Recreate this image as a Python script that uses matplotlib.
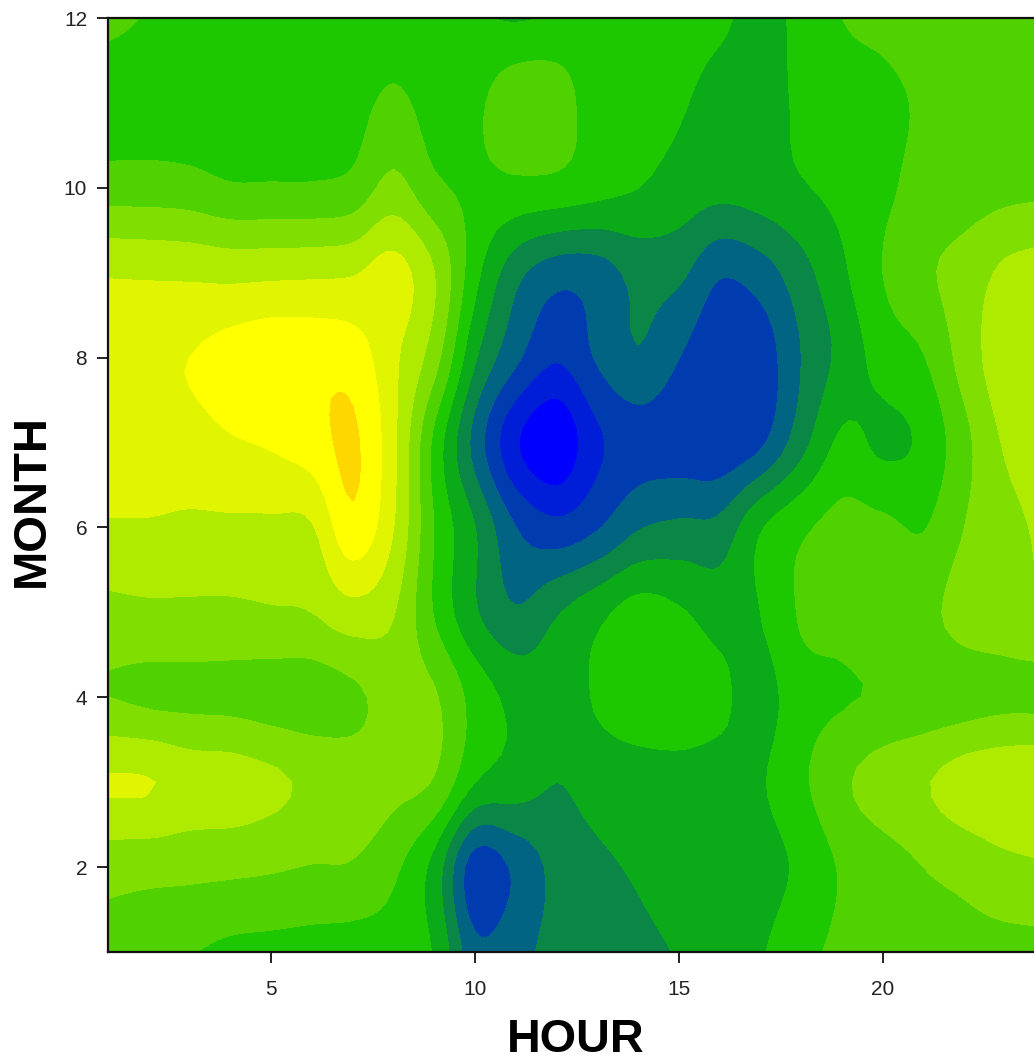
import numpy as np
import matplotlib
matplotlib.use("Agg")
import matplotlib.pyplot as plt

plt.rcParams['font.family'] = ['Liberation Sans', 'DejaVu Sans']

hours = list(range(1, 25))
months = list(range(1, 13))

m01 = [7.6,7.3,7.05,6.7,6.6,6.5,6.4,6.4,5.9,3.3,3.7,4.3,4.5,4.8,5.05,5.4,5.9,6.7,7.2,7.4,7.5,7.6,7.6,7.6]
m02 = [8.35,8.3,8.25,8.2,8.1,7.95,7.9,7.2,5.6,2.4,3.2,4.3,4.8,5.1,5.3,5.4,5.6,6.2,7.1,7.5,8.0,8.3,8.7,8.9]
m03 = [10.1,10.05,9.6,9.5,9.2,8.8,8.5,8.3,7.9,6.0,5.5,5.0,5.4,5.5,5.6,5.6,5.9,6.8,7.8,8.5,8.9,9.5,9.8,9.9]
m04 = [8.0,7.8,7.75,7.7,7.55,7.45,7.75,8.4,8.1,6.6,5.7,5.5,6.1,6.6,6.6,6.2,5.6,6.6,6.9,7.1,7.3,7.5,7.7,7.7]
m05 = [8.7,8.8,8.8,8.8,8.9,9.0,9.6,9.05,6.9,5.1,4.1,4.9,5.7,6.4,6.1,5.6,6.0,7.1,7.3,7.6,7.7,8.4,8.6,8.9]
m06 = [9.9,9.9,9.8,9.8,9.8,9.9,11.7,10.0,6.95,5.0,3.0,2.3,2.9,3.9,4.2,4.3,5.9,6.8,7.3,7.2,6.95,8.0,8.7,9.2]
m07 = [10.5,10.5,10.6,10.9,11.1,11.5,12.15,10.2,6.7,3.6,1.1,0.2,1.8,2.5,2.4,2.2,2.8,4.6,6.2,5.8,6.2,7.7,9.1,9.4]
m08 = [10.6,10.8,11.0,11.4,11.7,11.7,11.5,10.2,8.4,5.1,3.2,2.1,3.1,3.9,3.0,2.2,2.4,4.0,5.3,6.4,6.95,8.4,9.6,9.8]
m09 = [9.9,9.85,9.8,9.7,9.75,9.8,9.9,10.4,9.0,6.3,4.3,3.4,3.5,4.3,4.2,3.1,3.5,4.6,5.8,7.0,7.8,8.4,9.2,9.5]
m10 = [7.5,7.5,7.4,7.1,7.1,7.1,7.3,8.3,7.2,6.8,6.75,6.65,6.3,6.0,5.6,5.3,5.5,5.9,6.3,6.8,7.3,7.5,7.7,7.8]
m11 = [6.4,6.4,6.3,6.3,6.3,6.4,6.6,7.2,6.6,6.8,7.6,7.5,6.4,6.3,6.1,5.6,5.5,6.2,6.6,6.8,7.1,7.3,7.4,7.4]
m12 = [7.3,6.9,6.5,6.4,6.4,6.4,6.4,6.4,6.3,6.1,5.9,6.1,6.3,6.4,6.4,6.2,5.6,6.3,7.0,7.2,7.4,7.5,7.5,7.5]

levels = list(range(0, 14))
band_colors = ['#0000ff', '#001ed7', '#003caf', '#006482', '#0a8746', '#0aaa19',
               '#1ec800', '#50d200', '#80de00', '#afeb00', '#e1f500', '#ffff00', '#ffd700']

x_ticks = [5, 10, 15, 20]
y_ticks = [2, 4, 6, 8, 10, 12]

Z = np.array([m01, m02, m03, m04, m05, m06, m07, m08, m09, m10, m11, m12])


def smooth_axis(a, factor, axis):
    """Catmull-Rom refinement so the contour edges are curved, passing through every read value."""
    a = np.moveaxis(a, axis, 0)
    p = np.concatenate([[2 * a[0] - a[1]], a, [2 * a[-1] - a[-2]]])
    n = a.shape[0]
    t = np.linspace(0, n - 1, (n - 1) * factor + 1)
    i = np.minimum(t.astype(int), n - 2)
    u = (t - i).reshape((-1,) + (1,) * (a.ndim - 1))
    p0, p1, p2, p3 = p[i], p[i + 1], p[i + 2], p[i + 3]
    out = 0.5 * (2 * p1 + (p2 - p0) * u + (2 * p0 - 5 * p1 + 4 * p2 - p3) * u ** 2
                 + (3 * p1 - p0 - 3 * p2 + p3) * u ** 3)
    return np.moveaxis(out, 0, axis)


F = 6
Zs = smooth_axis(smooth_axis(Z, F, 0), F, 1)
xs = np.linspace(hours[0], hours[-1], Zs.shape[1])
ys = np.linspace(months[0], months[-1], Zs.shape[0])

W, H = 1034, 1061
fig = plt.figure(figsize=(W / 100, H / 100), dpi=100)
ax = fig.add_axes([108 / W, 1 - 952 / H, (W - 108) / W, (952 - 18) / H])
cs = ax.contourf(xs, ys, np.clip(Zs, 0.01, 12.99), levels=levels, colors=band_colors)
cs.set_edgecolor('face')
cs.set_linewidth(0.4)
ax.set_xlim(1, 23.7)
ax.set_ylim(1, 12)

ax.set_xticks(x_ticks)
ax.set_yticks(y_ticks)
ax.tick_params(axis='both', length=8, width=1.3, labelsize=15, color='#111111', labelcolor='#222222')
ax.tick_params(axis='x', pad=12)
ax.tick_params(axis='y', pad=7)
for s in ['left', 'top', 'bottom']:
    ax.spines[s].set_linewidth(1.6)
    ax.spines[s].set_color('#111111')
    ax.spines[s].set_zorder(5)
ax.spines['right'].set_visible(False)

fig.text(576 / W, 1 - 1040 / H, 'HOUR', ha='center', va='center', fontsize=33.7, fontweight='bold', color='black')
fig.text(32 / W, 1 - 500 / H, 'MONTH', ha='center', va='center', rotation=90, fontsize=34, fontweight='bold', color='black')

fig.savefig('out.png', dpi=100)
